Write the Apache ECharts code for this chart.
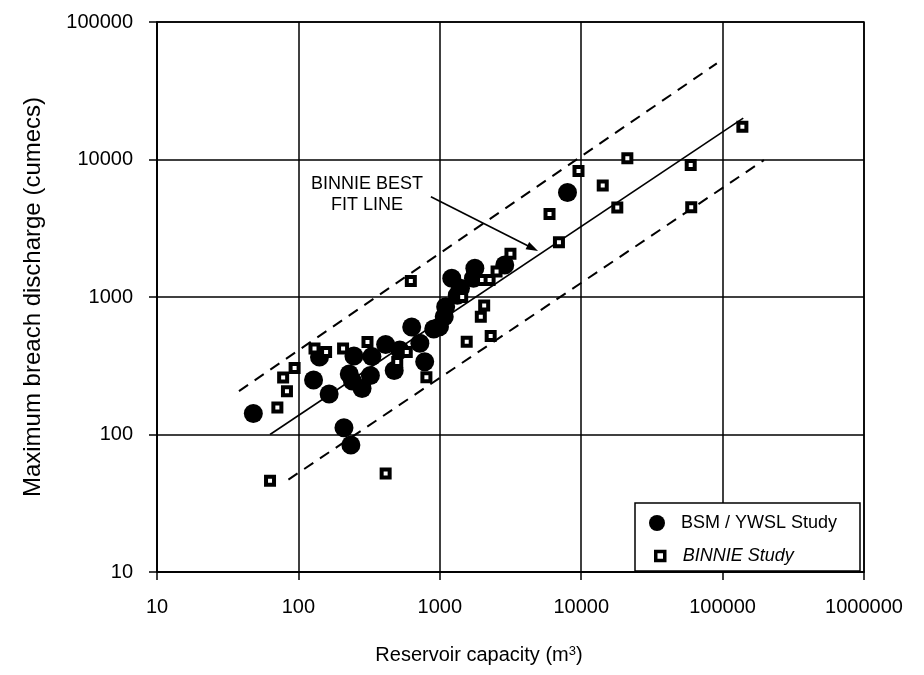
<!DOCTYPE html>
<html>
<head>
<meta charset="utf-8">
<style>html,body{margin:0;padding:0;background:#fff}#chart{width:924px;height:675px}</style>
<script src="https://cdn.jsdelivr.net/npm/echarts@6/dist/echarts.min.js"></script>
</head>
<body>
<div id="chart"></div>
<script>
// BSM / YWSL study: reservoir capacity (m3) vs maximum breach discharge (cumecs)
const bsmCapacity = [48, 128, 141, 165, 210, 235, 247, 229, 241, 282, 323, 331, 414, 476, 521, 633, 723, 782, 906, 995, 1075, 1100, 1330, 1215, 1400, 1730, 1770, 2880, 8000];
const bsmDischarge = [142, 249, 366, 197, 112, 84, 372, 275, 245, 216, 269, 369, 451, 292, 412, 605, 461, 338, 585, 608, 719, 850, 1030, 1370, 1160, 1370, 1620, 1710, 5750];

// BINNIE study
const binnieCapacity = [63, 71, 83, 78, 94, 130, 157, 207, 308, 414, 804, 624, 1550, 1950, 2060, 2290, 1990, 2250, 2520, 3160, 5970, 6960, 9570, 14200, 18000, 21200, 59500, 60000, 138000, 1440, 500, 584];
const binnieDischarge = [46, 157, 206, 260, 304, 422, 398, 422, 471, 52, 261, 1310, 473, 719, 867, 520, 1330, 1330, 1530, 2060, 4020, 2500, 8250, 6470, 4480, 10200, 9120, 4490, 17300, 1000, 337, 398];

// best fit line and envelope lines (end points)
const fitCapacity = [63, 140000];
const fitDischarge = [100, 20000];
const upperCapacity = [38, 91000];
const upperDischarge = [207, 50000];
const lowerCapacity = [85, 196000];
const lowerDischarge = [47, 9900];

// annotation arrow
const arrowCapacity = [865, 4540];
const arrowDischarge = [5360, 2260];

const xTicks = [10, 100, 1000, 10000, 100000, 1000000];
const yTicks = [10, 100, 1000, 10000, 100000];

const FONT = "'Liberation Sans', Arial, sans-serif";

const pairs = (xs, ys) => xs.map((x, i) => [x, ys[i]]);

var chartDom = document.getElementById("chart");
var myChart = echarts.init(chartDom);
var option;

const axisCommon = {
  type: "log",
  logBase: 10,
  axisLine: { show: true, lineStyle: { color: "#000", width: 1.5 } },
  axisTick: { show: true, inside: false, length: 8, lineStyle: { color: "#000", width: 1.5 } },
  minorTick: { show: false },
  splitLine: { show: true, lineStyle: { color: "#000", width: 1.5 } },
  axisLabel: {
    color: "#000",
    fontSize: 20,
    fontFamily: FONT,
    formatter: function (v) {
      return String(Math.round(v));
    },
  },
};

const lineSeries = (xs, ys, dashed) => ({
  type: "line",
  data: pairs(xs, ys),
  symbol: "none",
  silent: true,
  z: 2,
  lineStyle: { color: "#000", width: dashed ? 2 : 1.6, type: dashed ? [11, 8] : "solid" },
});

option = {
  animation: false,
  backgroundColor: "#fff",
  grid: {
    left: 157,
    right: 60,
    top: 22,
    bottom: 103,
    show: true,
    borderColor: "#000",
    borderWidth: 1.5,
  },
  xAxis: Object.assign({}, axisCommon, {
    min: xTicks[0],
    max: xTicks[xTicks.length - 1],
    axisLabel: Object.assign({}, axisCommon.axisLabel, { margin: 25 }),
  }),
  yAxis: Object.assign({}, axisCommon, {
    min: yTicks[0],
    max: yTicks[yTicks.length - 1],
    name: "Maximum breach discharge (cumecs)",
    nameLocation: "middle",
    nameGap: 112,
    nameTextStyle: { color: "#000", fontSize: 24, fontFamily: FONT },
    axisLabel: Object.assign({}, axisCommon.axisLabel, { margin: 24 }),
  }),
  legend: [
    {
      data: ["BSM / YWSL Study"],
      left: 649,
      top: 514,
      itemWidth: 16,
      itemHeight: 16,
      padding: 0,
      z: 20,
      selectedMode: false,
      textStyle: { color: "#000", fontSize: 18, fontFamily: FONT, padding: [0, 0, 0, 11] },
    },
    {
      data: [{ name: "BINNIE Study", textStyle: { fontStyle: "italic" } }],
      left: 654,
      top: 547,
      itemWidth: 9,
      itemHeight: 9,
      padding: 0,
      z: 20,
      selectedMode: false,
      itemStyle: { color: "#fff", borderColor: "#000", borderWidth: 3.5 },
      textStyle: { color: "#000", fontSize: 18, fontFamily: FONT, padding: [0, 0, 0, 13] },
    },
  ],
  graphic: [
    {
      type: "rect",
      z: 10,
      shape: { x: 635, y: 503, width: 225, height: 68 },
      style: { fill: "#fff", stroke: "#000", lineWidth: 1.5 },
    },
    {
      type: "text",
      z: 10,
      x: 367,
      y: 195,
      style: {
        text: "BINNIE BEST\nFIT LINE",
        fill: "#000",
        fontSize: 18,
        fontFamily: FONT,
        lineHeight: 21,
        align: "center",
        verticalAlign: "middle",
      },
    },
    {
      type: "text",
      z: 10,
      x: 479,
      y: 655,
      style: {
        text: "Reservoir capacity (m{s|3})",
        fill: "#000",
        fontSize: 20,
        fontFamily: FONT,
        align: "center",
        verticalAlign: "middle",
        rich: { s: { fontSize: 13, fontFamily: FONT, fill: "#000", verticalAlign: "top" } },
      },
    },
  ],
  series: [
    lineSeries(fitCapacity, fitDischarge, false),
    lineSeries(upperCapacity, upperDischarge, true),
    lineSeries(lowerCapacity, lowerDischarge, true),
    {
      type: "line",
      data: [],
      silent: true,
      markLine: {
        silent: true,
        symbol: ["none", "triangle"],
        symbolSize: [8, 12],
        label: { show: false },
        lineStyle: { color: "#000", width: 1.6, type: "solid" },
        data: [
          [
            { coord: [arrowCapacity[0], arrowDischarge[0]] },
            { coord: [arrowCapacity[1], arrowDischarge[1]] },
          ],
        ],
      },
    },
    {
      name: "BSM / YWSL Study",
      type: "scatter",
      symbol: "circle",
      symbolSize: 19,
      z: 3,
      itemStyle: { color: "#000", opacity: 1 },
      data: pairs(bsmCapacity, bsmDischarge),
    },
    {
      name: "BINNIE Study",
      type: "scatter",
      symbol: "rect",
      symbolSize: 8,
      z: 4,
      itemStyle: { color: "#fff", borderColor: "#000", borderWidth: 4, opacity: 1 },
      data: pairs(binnieCapacity, binnieDischarge),
    },
  ],
};

option && myChart.setOption(option);
</script>
</body>
</html>
